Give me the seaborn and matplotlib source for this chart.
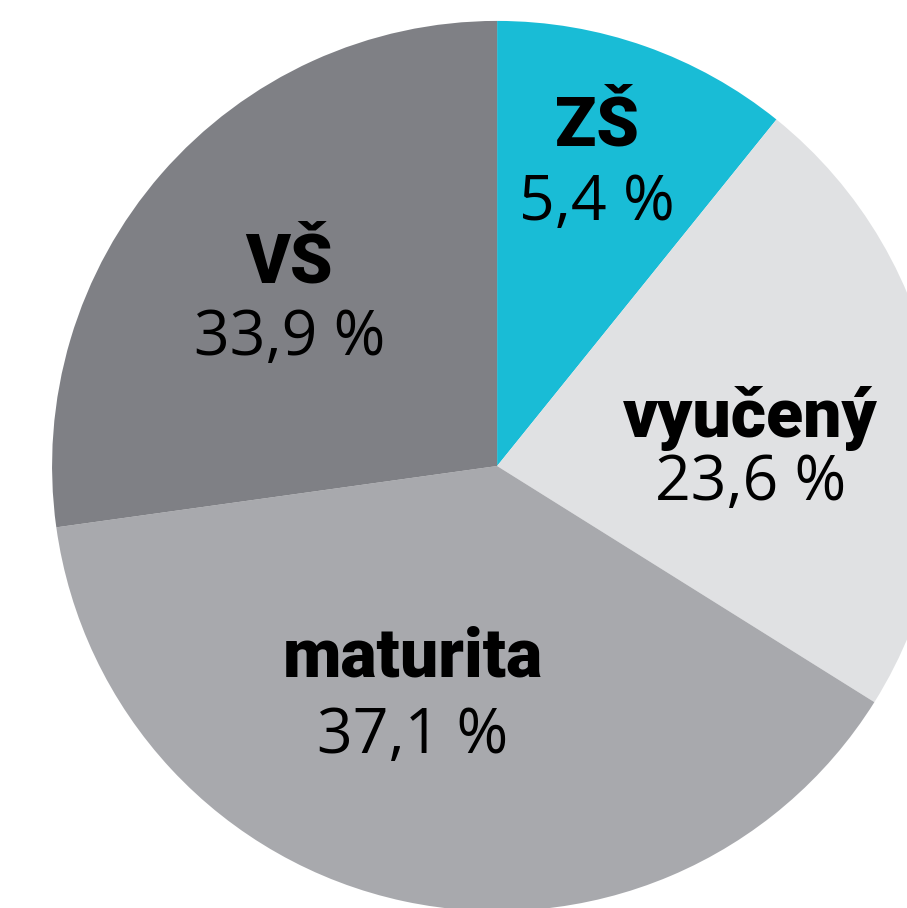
import matplotlib
matplotlib.use("Agg")
import matplotlib.pyplot as plt
import seaborn as sns

# categories, drawn wedge shares and printed labels
categories = ["ZŠ", "vyučený", "maturita", "VŠ"]
wedge_shares = [10.8, 23.1, 38.9, 27.2]
pct_labels = ["5,4 %", "23,6 %", "37,1 %", "33,9 %"]
colors = ["#19bcd6", "#e0e1e3", "#a8a9ad", "#7f8085"]

# label anchor points in units of the pie radius (name baseline, pct baseline)
label_x = [0.225, 0.569, -0.189, -0.467]
name_y = [0.721, 0.065, -0.474, 0.413]
pct_y = [0.553, -0.076, -0.645, 0.249]

sns.set_theme(style="white")

fig = plt.figure(figsize=(9.07, 9.08), dpi=100)
ax = fig.add_axes([0, 0, 1, 1])

ax.pie(wedge_shares, colors=colors, startangle=90, counterclock=False,
       radius=1, center=(0, 0), wedgeprops=dict(linewidth=0))

ax.set_xlim(-1.117, 0.921)
ax.set_ylim(-0.993, 1.047)
ax.set_aspect("auto")
ax.axis("off")

for i, cat in enumerate(categories):
    ax.text(label_x[i], name_y[i], cat, ha="center", va="baseline",
            fontsize=49, fontweight=900, family=["Roboto", "DejaVu Sans"],
            color="black")
    ax.text(label_x[i], pct_y[i], pct_labels[i], ha="center", va="baseline",
            fontsize=45, family=["Open Sans", "DejaVu Sans"], color="black")

fig.savefig("out.png", dpi=100)
